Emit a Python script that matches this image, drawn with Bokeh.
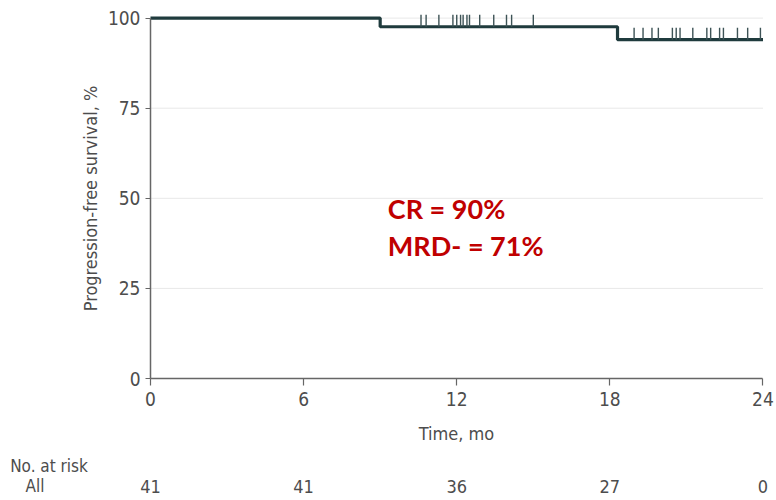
from bokeh.plotting import figure
from bokeh.models import Range1d, FixedTicker, LinearAxis
from bokeh.core.properties import value
from bokeh.embed import file_html
from bokeh.resources import INLINE

# ---- data ----
step_times = [0, 9.0, 18.3, 24.0]
step_surv = [100.0, 97.6, 94.0, 94.0]
censor_times = [10.6, 10.8, 11.3, 11.85, 12.0, 12.15, 12.25, 12.4, 12.5, 12.9, 13.45, 13.95, 14.15, 15.0,
                18.95, 19.3, 19.65, 19.9, 20.45, 20.6, 20.75, 21.25, 21.8, 21.95, 22.3, 22.45, 23.0, 23.4, 23.9]
x_ticks = [0, 6, 12, 18, 24]
y_ticks = [0, 25, 50, 75, 100]
at_risk = [41, 41, 36, 27, 0]
risk_title = "No. at risk"
risk_group = "All"
annotations = ["CR = 90%", "MRD- = 71%"]

FONT = "'Liberation Sans Narrow', 'DejaVu Sans Condensed', sans-serif"
GREY = "#4d4d4d"
LINE = "#1f3b3d"

W, H = 776, 500
X0_PX, Y0_PX = 150, 378          # screen position of (0 mo, 0 %)
PX_MO, PX_PCT = 25.52, 3.604


def surv_at(t):
    s = step_surv[0]
    for tt, ss in zip(step_times, step_surv):
        if t >= tt:
            s = ss
    return s


p = figure(width=W, height=H, output_backend="svg", toolbar_location=None,
           x_range=Range1d(-X0_PX / PX_MO, (W - X0_PX) / PX_MO),
           y_range=Range1d(-(H - Y0_PX) / PX_PCT, Y0_PX / PX_PCT),
           x_axis_location=None, y_axis_location=None,
           min_border_left=0, min_border_right=0, min_border_top=0, min_border_bottom=0)
p.outline_line_color = None
p.background_fill_color = "white"
p.border_fill_color = "white"
p.grid.visible = False

# gridlines (horizontal, within the plotting region)
gy = [t for t in y_ticks if t > 0]
p.segment(x0=[0] * len(gy), y0=gy, x1=[24.0] * len(gy), y1=gy, line_color="#e8e8e8", line_width=1)

# axes fixed at the data origin
xax = LinearAxis(fixed_location=0, bounds=(0, 24), ticker=FixedTicker(ticks=x_ticks), axis_label="Time, mo")
yax = LinearAxis(fixed_location=0, bounds=(0, 100), ticker=FixedTicker(ticks=y_ticks),
                 axis_label="Progression-free survival, %")
for ax in (xax, yax):
    ax.axis_line_color = "#666666"
    ax.axis_line_width = 1.5
    ax.major_tick_line_color = "#666666"
    ax.major_tick_line_width = 1.2
    ax.minor_tick_line_color = None
    ax.major_tick_in = 0
    ax.major_label_text_font = FONT
    ax.major_label_text_font_size = "19px"
    ax.major_label_text_color = GREY
    ax.axis_label_text_font = FONT
    ax.axis_label_text_font_size = "18px"
    ax.axis_label_text_color = GREY
    ax.axis_label_text_font_style = "normal"
xax.major_tick_out = 7
yax.major_tick_out = 5
xax.major_label_standoff = 6
yax.major_label_standoff = 5
xax.axis_label_standoff = 14
yax.axis_label_standoff = 4
p.add_layout(xax, "below")
p.add_layout(yax, "left")

# KM curve
p.step(step_times, step_surv, mode="after", line_color=LINE, line_width=3.2)

# censor marks
cy = [surv_at(t) for t in censor_times]
p.segment(x0=censor_times, y0=cy, x1=censor_times, y1=[c + 3.3 for c in cy],
          line_color="#3d5356", line_width=1.4)

# annotations
red = "#c00000"
p.text(x=[9.3, 9.3], y=[47.3, 37.0], text=annotations, text_font=value("Lato"), text_font_style="bold",
       text_font_size="27px", text_color=red, text_baseline="middle", text_align="left")

# number at risk table
ROW1, ROW2 = -24.4, -29.9
p.text(x=[-5.5], y=[ROW1], text=[risk_title], text_font=value(FONT), text_font_size="17px",
       text_color=GREY, text_baseline="middle", text_align="left")
p.text(x=[-4.9], y=[ROW2], text=[risk_group], text_font=value(FONT), text_font_size="17px",
       text_color=GREY, text_baseline="middle", text_align="left")
p.text(x=x_ticks, y=[ROW2] * len(x_ticks), text=[str(n) for n in at_risk], text_font=value(FONT),
       text_font_size="18px", text_color=GREY, text_baseline="middle", text_align="center")

open("out.html", "w").write(file_html(p, INLINE))
